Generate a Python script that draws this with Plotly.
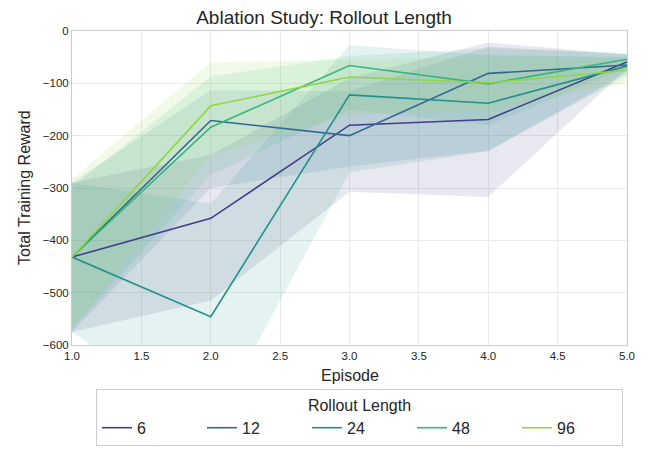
import plotly.graph_objects as go

episodes = [1, 2, 3, 4, 5]
rollout_lengths = ["6", "12", "24", "48", "96"]
colors = ["#433e85", "#31688e", "#21918c", "#35b779", "#8fd744"]

# mean reward per episode for each rollout length
mean_6 = [-432, -358, -180, -169, -59]
mean_12 = [-432, -171, -200, -81, -65]
mean_24 = [-432, -546, -122, -138, -67]
mean_48 = [-432, -184, -66, -101, -54]
mean_96 = [-432, -143, -88, -99, -75]

# confidence band bounds
lower_6 = [-575, -515, -307, -317, -72]
upper_6 = [-290, -237, -90, -22, -45]
lower_12 = [-575, -300, -259, -229, -80]
upper_12 = [-290, -113, -115, -30, -45]
lower_24 = [-575, -760, -270, -230, -85]
upper_24 = [-290, -330, -27, -46, -50]
lower_48 = [-570, -275, -150, -180, -70]
upper_48 = [-298, -87, -48, -33, -42]
lower_96 = [-570, -237, -160, -150, -99]
upper_96 = [-283, -60, -55, -50, -55]

means = [mean_6, mean_12, mean_24, mean_48, mean_96]
lowers = [lower_6, lower_12, lower_24, lower_48, lower_96]
uppers = [upper_6, upper_12, upper_24, upper_48, upper_96]


def rgba(hex_color, alpha):
    h = hex_color.lstrip("#")
    r, g, b = int(h[0:2], 16), int(h[2:4], 16), int(h[4:6], 16)
    return f"rgba({r},{g},{b},{alpha})"


fig = go.Figure()

for name, color, lo, hi in zip(rollout_lengths, colors, lowers, uppers):
    fig.add_trace(go.Scatter(
        x=episodes + episodes[::-1],
        y=hi + lo[::-1],
        fill="toself",
        fillcolor=rgba(color, 0.12),
        line=dict(width=0),
        mode="lines",
        hoverinfo="skip",
        showlegend=False,
    ))

for name, color, m in zip(rollout_lengths, colors, means):
    fig.add_trace(go.Scatter(
        x=episodes, y=m, mode="lines", name=name,
        line=dict(color=color, width=1.6),
    ))

font_family = "Liberation Sans, Arial, sans-serif"
plot_w, plot_h = 648 - 72 - 21, 449 - 31 - 104

fig.update_layout(
    width=648, height=449,
    margin=dict(l=72, r=21, t=31, b=104),
    paper_bgcolor="white", plot_bgcolor="white",
    font=dict(family=font_family, color="#262626"),
    title=dict(text="Ablation Study: Rollout Length", x=0.5, xanchor="center",
               y=0.962, yanchor="middle", font=dict(size=19, color="#262626")),
    xaxis=dict(
        range=[1, 5], dtick=0.5, tickformat=".1f",
        automargin=False,
        tickfont=dict(size=11.5),
        showgrid=True, gridcolor="#ebebeb", gridwidth=1,
        showline=True, linecolor="#cccccc", linewidth=1, mirror=True,
        zeroline=False, ticks="",
    ),
    yaxis=dict(
        range=[-600, 0], dtick=100,
        automargin=False,
        tickfont=dict(size=11.5),
        showgrid=True, gridcolor="#ebebeb", gridwidth=1,
        showline=True, linecolor="#cccccc", linewidth=1, mirror=True,
        zeroline=False, ticks="",
    ),
    legend=dict(
        orientation="h",
        xref="container", yref="container",
        x=96 / 648, xanchor="left", y=(449 - 389) / 449, yanchor="top",
        title=dict(text="Rollout Length", side="top center", font=dict(size=16)),
        font=dict(size=16),
        bordercolor="#cccccc", borderwidth=1, bgcolor="white",
        entrywidth=60, entrywidthmode="pixels",
    ),
    annotations=[
        dict(text="Episode", xref="paper", yref="paper", x=0.5, y=-30 / plot_h,
             xanchor="center", yanchor="middle", showarrow=False,
             font=dict(size=16)),
        dict(text="Total Training Reward", xref="paper", yref="paper",
             x=-48 / plot_w, y=0.5, xanchor="center", yanchor="middle",
             textangle=-90, showarrow=False, font=dict(size=16)),
    ],
)

fig.write_html("out.html")
